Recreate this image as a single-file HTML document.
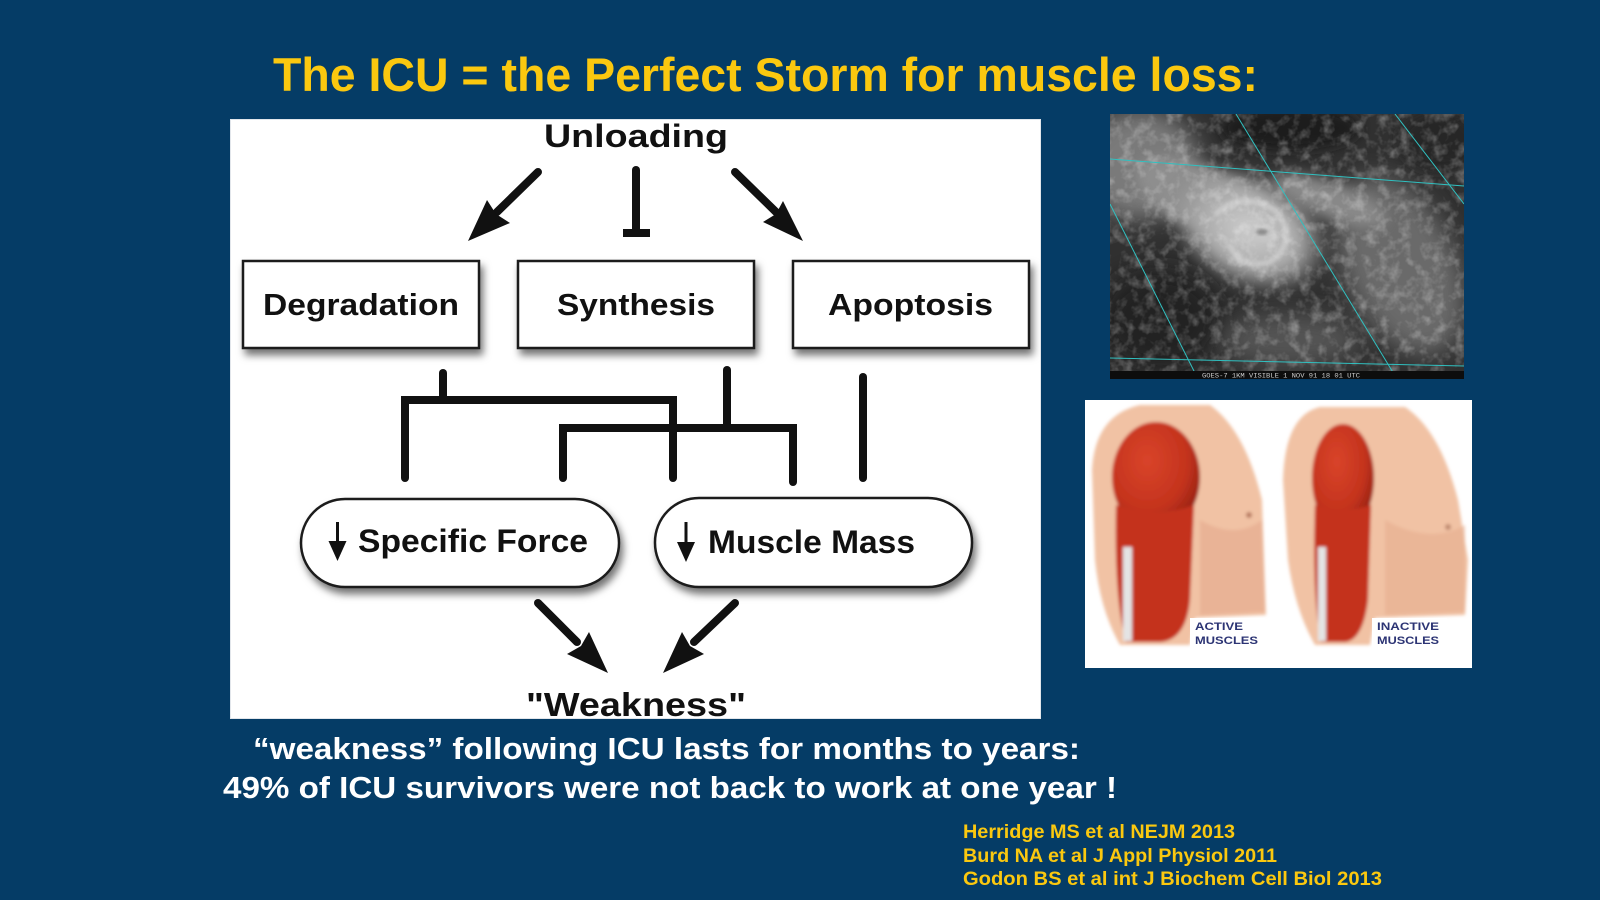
<!DOCTYPE html>
<html>
<head>
<meta charset="utf-8">
<style>
  html,body{margin:0;padding:0;background:#053c66;}
  svg{display:block;}
</style>
</head>
<body>
<svg width="1600" height="900" viewBox="0 0 1600 900" xmlns="http://www.w3.org/2000/svg" font-family="'Liberation Sans', Arial, sans-serif" font-weight="bold">
  <defs>
    <filter id="sh" x="-10%" y="-20%" width="130%" height="160%">
      <feDropShadow dx="3" dy="6" stdDeviation="4" flood-color="#000" flood-opacity="0.55"/>
    </filter>
    <filter id="bl6" x="-50%" y="-50%" width="200%" height="200%"><feGaussianBlur stdDeviation="6"/></filter>
    <filter id="bl12" x="-50%" y="-50%" width="200%" height="200%"><feGaussianBlur stdDeviation="12"/></filter>
    <filter id="bl2" x="-20%" y="-20%" width="140%" height="140%"><feGaussianBlur stdDeviation="1.6"/></filter>
    <filter id="noise" x="0" y="0" width="100%" height="100%">
      <feTurbulence type="fractalNoise" baseFrequency="0.09" numOctaves="3" seed="4"/>
      <feColorMatrix type="matrix" values="0 0 0 0 1  0 0 0 0 1  0 0 0 0 1  1.8 0 0 0 -0.8"/>
    </filter>
    <clipPath id="pc"><rect x="230" y="119" width="811" height="600"/></clipPath>
    <clipPath id="sc"><rect x="1110" y="114" width="354" height="265"/></clipPath>
    <clipPath id="mc"><rect x="1085" y="400" width="387" height="268"/></clipPath>
    <radialGradient id="swirl" cx="0.5" cy="0.5" r="0.5">
      <stop offset="0" stop-color="#cfcfcf"/>
      <stop offset="0.6" stop-color="#aaaaaa"/>
      <stop offset="1" stop-color="#a0a0a0" stop-opacity="0"/>
    </radialGradient>
    <radialGradient id="musc" cx="0.4" cy="0.35" r="0.65">
      <stop offset="0" stop-color="#d9442a"/>
      <stop offset="0.7" stop-color="#c4331d"/>
      <stop offset="1" stop-color="#9c2415"/>
    </radialGradient>
  </defs>

  <!-- background -->
  <rect x="0" y="0" width="1600" height="900" fill="#053c66"/>

  <!-- title -->
  <text x="273" y="91" font-size="47" fill="#fbc80f" textLength="985" lengthAdjust="spacingAndGlyphs">The ICU = the Perfect Storm for muscle loss:</text>

  <!-- diagram panel -->
  <rect x="230" y="119" width="811" height="600" fill="#ffffff"/>
  <g clip-path="url(#pc)" fill="#111" stroke="none">
    <text x="544" y="147" font-size="32" textLength="184" lengthAdjust="spacingAndGlyphs">Unloading</text>

    <!-- top arrows -->
    <line x1="538" y1="172" x2="497" y2="212" stroke="#111" stroke-width="8" stroke-linecap="round"/>
    <polygon points="468,241 487,200 496,214 510,223" fill="#111"/>
    <line x1="735" y1="172" x2="776" y2="212" stroke="#111" stroke-width="8" stroke-linecap="round"/>
    <polygon points="803,241 783,201 776,214 763,222" fill="#111"/>
    <!-- inhibition bar -->
    <line x1="636" y1="170" x2="636" y2="232" stroke="#111" stroke-width="8" stroke-linecap="round"/>
    <rect x="623" y="229" width="27" height="8" fill="#111"/>

    <!-- boxes -->
    <g filter="url(#sh)">
      <rect x="243" y="261" width="236" height="87" fill="#fff" stroke="#1a1a1a" stroke-width="2.5"/>
      <rect x="518" y="261" width="236" height="87" fill="#fff" stroke="#1a1a1a" stroke-width="2.5"/>
      <rect x="793" y="261" width="236" height="87" fill="#fff" stroke="#1a1a1a" stroke-width="2.5"/>
    </g>
    <text x="263" y="315" font-size="31" textLength="196" lengthAdjust="spacingAndGlyphs">Degradation</text>
    <text x="557" y="315" font-size="31" textLength="158" lengthAdjust="spacingAndGlyphs">Synthesis</text>
    <text x="828" y="315" font-size="31" textLength="165" lengthAdjust="spacingAndGlyphs">Apoptosis</text>

    <!-- connectors -->
    <g fill="none" stroke="#111" stroke-width="8" stroke-linecap="round" stroke-linejoin="miter">
      <path d="M443,373 L443,400"/>
      <path d="M405,478 L405,400 L673,400 L673,478"/>
      <path d="M727,370 L727,428"/>
      <path d="M563,478 L563,428 L793,428 L793,482"/>
      <path d="M863,377 L863,478"/>
    </g>

    <!-- pills -->
    <g filter="url(#sh)">
      <rect x="301" y="499" width="318" height="88" rx="44" ry="44" fill="#fff" stroke="#1a1a1a" stroke-width="2.5"/>
      <rect x="655" y="498" width="317" height="89" rx="44" ry="44" fill="#fff" stroke="#1a1a1a" stroke-width="2.5"/>
    </g>
    <line x1="337.5" y1="522" x2="337.5" y2="548" stroke="#111" stroke-width="3"/>
    <polygon points="328.5,541 346.5,541 337.5,561" fill="#111"/>
    <text x="358" y="552" font-size="32" textLength="230" lengthAdjust="spacingAndGlyphs">Specific Force</text>
    <line x1="686" y1="522" x2="686" y2="549" stroke="#111" stroke-width="3"/>
    <polygon points="677,542 695,542 686,562" fill="#111"/>
    <text x="708" y="553" font-size="32" textLength="207" lengthAdjust="spacingAndGlyphs">Muscle Mass</text>

    <!-- bottom arrows -->
    <line x1="538" y1="603" x2="577" y2="642" stroke="#111" stroke-width="8" stroke-linecap="round"/>
    <polygon points="608,673 567,654 581,646 589,632" fill="#111"/>
    <line x1="735" y1="603" x2="694" y2="642" stroke="#111" stroke-width="8" stroke-linecap="round"/>
    <polygon points="663,673 704,654 690,646 682,632" fill="#111"/>

    <text x="526" y="716" font-size="33" textLength="220" lengthAdjust="spacingAndGlyphs">"Weakness"</text>
  </g>
  <rect x="230.5" y="119.5" width="810" height="599" fill="none" stroke="#cfd6de" stroke-width="1" opacity="0.6"/>

  <!-- satellite image -->
  <g clip-path="url(#sc)">
    <rect x="1110" y="114" width="354" height="265" fill="#303030"/>
    <ellipse cx="1140" cy="165" rx="60" ry="55" fill="#7a7a7a" filter="url(#bl12)"/>
    <ellipse cx="1290" cy="128" rx="70" ry="22" fill="#1c1c1c" filter="url(#bl6)"/>
    <ellipse cx="1440" cy="140" rx="40" ry="30" fill="#262626" filter="url(#bl6)"/>
    <ellipse cx="1205" cy="200" rx="75" ry="32" transform="rotate(25 1205 200)" fill="#8e8e8e" filter="url(#bl6)"/>
    <ellipse cx="1250" cy="230" rx="85" ry="60" transform="rotate(25 1250 230)" fill="url(#swirl)" filter="url(#bl6)"/>
    <path d="M1215,215 Q1240,190 1275,210 Q1300,240 1270,262 Q1240,270 1230,245" fill="none" stroke="#d6d6d6" stroke-width="6" opacity="0.6" filter="url(#bl2)"/>
    <ellipse cx="1262" cy="232" rx="16" ry="9" transform="rotate(20 1262 232)" fill="#c6c6c6" filter="url(#bl2)"/>
    <ellipse cx="1262" cy="232" rx="6" ry="3" fill="#8a8a8a" filter="url(#bl2)"/>
    <ellipse cx="1400" cy="265" rx="55" ry="95" transform="rotate(-25 1400 265)" fill="#6a6a6a" filter="url(#bl12)"/>
    <ellipse cx="1330" cy="200" rx="60" ry="18" transform="rotate(20 1330 200)" fill="#888888" filter="url(#bl6)"/>
    <ellipse cx="1160" cy="320" rx="60" ry="50" fill="#222222" filter="url(#bl12)"/>
    <ellipse cx="1290" cy="340" rx="70" ry="25" fill="#555555" filter="url(#bl12)"/>
    <rect x="1110" y="114" width="354" height="265" filter="url(#noise)" opacity="0.4"/>
    <g stroke="#30c0c0" stroke-width="1" fill="none">
      <line x1="1110" y1="159" x2="1464" y2="186"/>
      <line x1="1236" y1="114" x2="1397" y2="379"/>
      <line x1="1395" y1="114" x2="1464" y2="204"/>
      <line x1="1110" y1="204" x2="1198" y2="379"/>
      <line x1="1110" y1="358" x2="1464" y2="366"/>
    </g>
    <rect x="1110" y="371" width="354" height="8" fill="#0d0d0d"/>
    <text x="1202" y="377.5" font-size="6" font-weight="normal" font-family="'Liberation Mono', monospace" fill="#cccccc" textLength="158" lengthAdjust="spacingAndGlyphs">GOES-7 1KM VISIBLE   1 NOV 91   18 01 UTC</text>
  </g>

  <!-- muscle image -->
  <rect x="1085" y="400" width="387" height="268" fill="#ffffff"/>
  <g clip-path="url(#mc)">
    <g filter="url(#bl2)">
      <!-- left torso -->
      <path d="M1092,470 Q1095,415 1140,405 L1210,405 Q1245,430 1262,500 L1266,615 L1195,618 L1190,645 L1120,645 Q1100,610 1095,560 Z" fill="#f1c2a4"/>
      <path d="M1200,520 Q1235,540 1262,520 L1265,612 L1200,615 Z" fill="#e6ad90" opacity="0.7"/>
      <ellipse cx="1156" cy="477" rx="44" ry="55" fill="url(#musc)"/>
      <path d="M1116,505 Q1155,520 1194,505 L1190,600 Q1186,640 1160,642 L1126,642 Q1114,600 1116,505 Z" fill="#c4331d"/>
      <rect x="1123" y="547" width="9" height="94" fill="#e4e4e4"/>
      <circle cx="1249" cy="515" r="3" fill="#b87a60"/>
      <!-- right torso -->
      <path d="M1283,480 Q1285,415 1320,407 L1405,407 Q1440,430 1458,500 L1468,560 L1465,615 L1375,618 L1370,645 L1315,645 Q1295,610 1288,560 Z" fill="#f1c2a4"/>
      <path d="M1385,520 Q1430,545 1465,525 L1465,612 L1385,615 Z" fill="#e6ad90" opacity="0.6"/>
      <ellipse cx="1343" cy="478" rx="31" ry="54" fill="url(#musc)"/>
      <path d="M1315,505 Q1342,515 1371,505 L1368,600 Q1363,640 1345,642 L1321,642 Q1312,600 1315,505 Z" fill="#c4331d"/>
      <rect x="1318" y="547" width="8" height="94" fill="#e4e4e4"/>
      <circle cx="1448" cy="527" r="3" fill="#c08a70"/>
    </g>
    <rect x="1190" y="618" width="75" height="30" fill="#ffffff"/>
    <rect x="1372" y="618" width="75" height="30" fill="#ffffff"/>
    <g fill="#2c3474" font-size="11">
      <text x="1195" y="630" textLength="48" lengthAdjust="spacingAndGlyphs">ACTIVE</text>
      <text x="1195" y="644" textLength="63" lengthAdjust="spacingAndGlyphs">MUSCLES</text>
      <text x="1377" y="630" textLength="62" lengthAdjust="spacingAndGlyphs">INACTIVE</text>
      <text x="1377" y="644" textLength="62" lengthAdjust="spacingAndGlyphs">MUSCLES</text>
    </g>
  </g>

  <!-- body text -->
  <text x="253" y="759" font-size="31" fill="#ffffff" textLength="827" lengthAdjust="spacingAndGlyphs">“weakness” following ICU lasts for months to years:</text>
  <text x="223" y="798" font-size="31" fill="#ffffff" textLength="894" lengthAdjust="spacingAndGlyphs">49% of ICU survivors were not back to work at one year !</text>

  <!-- references -->
  <g fill="#fbc80f" font-size="19">
    <text x="963" y="838" textLength="272" lengthAdjust="spacingAndGlyphs">Herridge MS et al NEJM 2013</text>
    <text x="963" y="862" textLength="314" lengthAdjust="spacingAndGlyphs">Burd NA et al J Appl Physiol 2011</text>
    <text x="963" y="885" textLength="419" lengthAdjust="spacingAndGlyphs">Godon BS et al int J Biochem Cell Biol  2013</text>
  </g>
</svg>
</body>
</html>
